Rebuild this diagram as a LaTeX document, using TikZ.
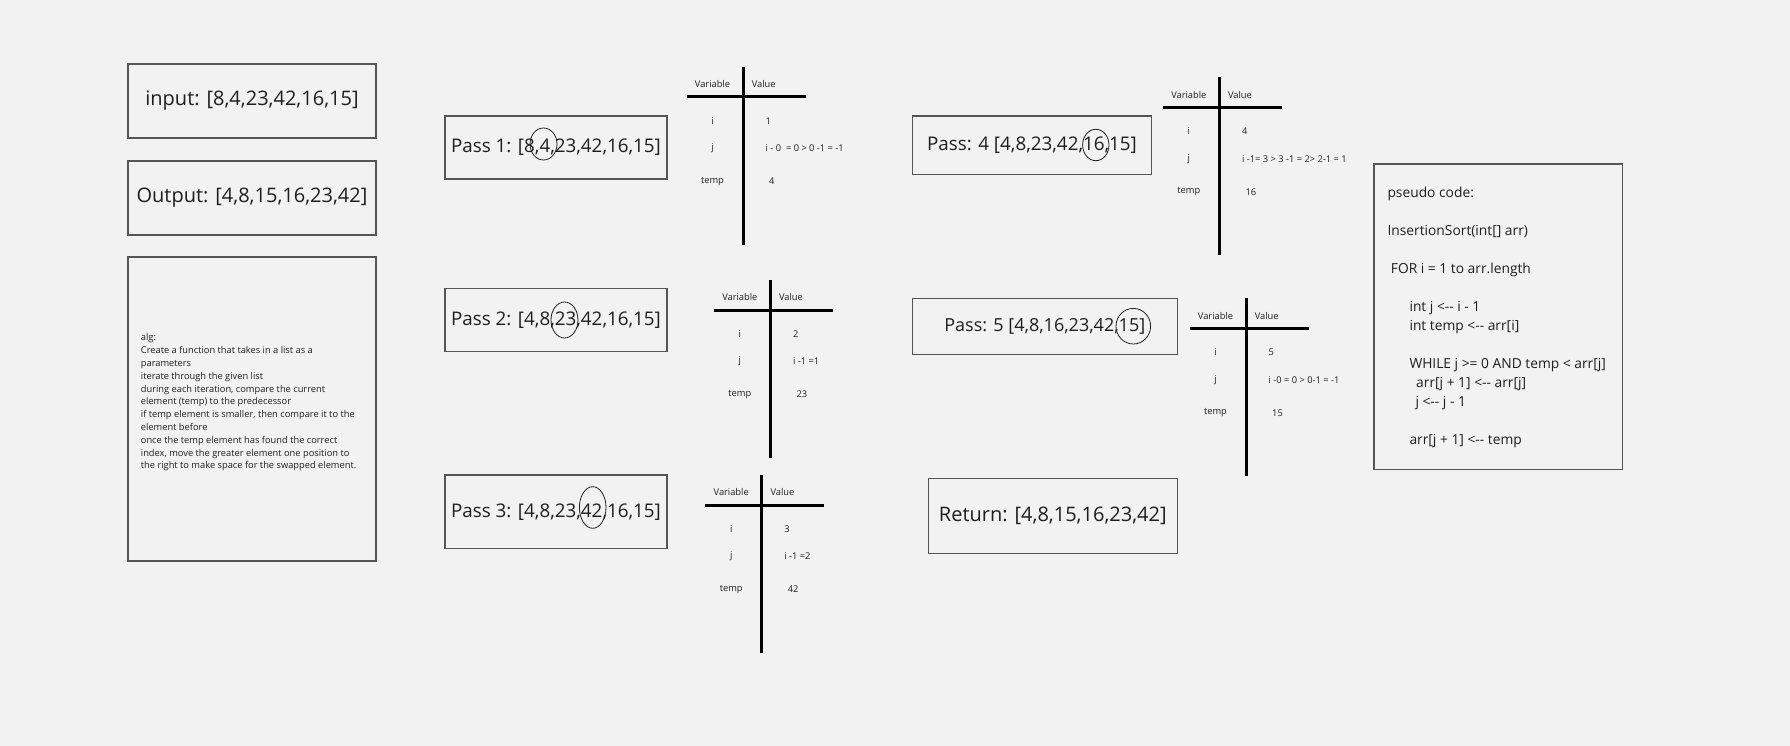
\documentclass[tikz,border=0pt]{standalone}
\usepackage{fontspec}
\setmainfont{Open Sans}[Ligatures=TeXOff]
\definecolor{bg}{HTML}{F2F2F2}
\definecolor{boxline}{HTML}{555555}
\definecolor{ink}{HTML}{1E1E1E}
\tikzset{
  box/.style={draw=boxline, line width=1.2pt, inner sep=0pt, text=ink},
  bigtxt/.style={font=\fontsize{20}{24}\selectfont},
  passtxt/.style={font=\fontsize{18.8}{22}\selectfont},
  smalltxt/.style={font=\fontsize{9.3}{11}\selectfont, text=ink, inner sep=0pt},
  tline/.style={line width=3pt, black},
  markring/.style={draw=ink, line width=0.8pt}
}
% name, X (vertical line), T (top), i value, j value, temp value
\newcommand\vartable[6]{%
  \coordinate (#1-top) at (#2,#3);
  \coordinate (#1-bot) at (#2,#3+178);
  \coordinate (#1-hl) at (#2-56.5,#3+30);
  \coordinate (#1-hr) at (#2+62.5,#3+30);
  \draw[tline] (#1-top) -- (#1-bot);
  \draw[tline] (#1-hl) -- (#1-hr);
  \node[smalltxt] (#1-var) at (#2-30.5,#3+17.5) {Variable};
  \node[smalltxt] (#1-val) at (#2+20.7,#3+17.5) {Value};
  \node[smalltxt] (#1-i) at (#2-30.5,#3+54) {i};
  \node[smalltxt] (#1-j) at (#2-30.5,#3+81.5) {j};
  \node[smalltxt] (#1-temp) at (#2-30.5,#3+114.5) {temp};
  \node[smalltxt, anchor=west] (#1-iv) at (#2+22.5,#3+54) {#4};
  \node[smalltxt, anchor=west] (#1-jv) at (#2+22.5,#3+81.5) {#5};
  \node[smalltxt, anchor=west] (#1-tv) at (#2+26,#3+114.5) {#6};
}
\begin{document}
\begin{tikzpicture}[x=1pt,y=-1pt]
  \fill[bg] (0,0) rectangle (1790,746);
  \useasboundingbox (0,0) rectangle (1790,746);

  % left column
  \node[box, bigtxt, minimum width=248, minimum height=74] (input) at (252,101) {input: [8,4,23,42,16,15]};
  \node[box, bigtxt, minimum width=248, minimum height=74] (output) at (252,198) {Output: [4,8,15,16,23,42]};
  \node[box, minimum width=248, minimum height=304] (algbox) at (252,409) {};
  \node[smalltxt, align=left, anchor=west, font=\fontsize{9.3}{12.8}\selectfont] (alg) at (140.7,402.5) {alg:\\
Create a function that takes in a list as a\\
parameters\\
iterate through the given list\\
during each iteration, compare the current\\
element (temp) to the predecessor\\
if temp element is smaller, then compare it to the\\
element before\\
once the temp element has found the correct\\
index, move the greater element one position to\\
the right to make space for the swapped element.};

  % passes
  \node[box, passtxt, minimum width=222, minimum height=63] (pass1) at (556,147.5) {Pass 1: [8,4,23,42,16,15]};
  \draw[markring] (543.5,144) ellipse [x radius=13.5pt, y radius=16pt];
  \node[box, passtxt, minimum width=222, minimum height=63.4] (pass2) at (556,320) {Pass 2: [4,8,23,42,16,15]};
  \draw[markring] (564.5,320) ellipse [x radius=13.5pt, y radius=18pt];
  \node[box, passtxt, minimum width=222, minimum height=73.3] (pass3) at (556,511.7) {Pass 3: [4,8,23,42,16,15]};
  \draw[markring] (592.7,507.5) ellipse [x radius=13.3pt, y radius=20.8pt];
  \node[box, passtxt, minimum width=239.4, minimum height=58.3] (pass4) at (1032,145.2) {Pass: 4 [4,8,23,42,16,15]};
  \draw[markring] (1095.8,145) ellipse [x radius=13.2pt, y radius=15.7pt];
  \node[box, font=\fontsize{18}{22}\selectfont, minimum width=265, minimum height=56] (pass5) at (1044.8,326.3) {Pass: 5 [4,8,16,23,42,15]};
  \draw[markring] (1133.3,326.2) ellipse [x radius=17.3pt, y radius=17.8pt];
  \node[box, bigtxt, minimum width=249, minimum height=75] (ret) at (1052.8,515.8) {Return: [4,8,15,16,23,42]};

  % variable tables
  \vartable{t1}{743}{67}{1}{i - 0\ \ = 0 > 0 -1 = -1}{4}
  \vartable{t2}{770.3}{280}{2}{i -1 =1}{23}
  \vartable{t3}{761.7}{475}{3}{i -1 =2}{42}
  \vartable{t4}{1219.3}{77.3}{4}{i -1= 3 > 3 -1 = 2> 2-1 = 1}{16}
  \vartable{t5}{1246}{298.3}{5}{i -0 = 0 > 0-1 = -1}{15}

  % pseudo code
  \node[box, minimum width=248.7, minimum height=305.3] (pseudobox) at (1498.3,316.7) {};
  \node[align=left, inner sep=0pt, text=ink, anchor=base west,
        font=\fontsize{13.8}{19}\selectfont] (pseudo) at (1387.3,444.5) {pseudo code:\\[19pt]
InsertionSort(int[] arr)\\[19pt]
\hspace*{3.4pt}FOR i = 1 to arr.length\\[19pt]
\hspace*{22pt}int j <-- i - 1\\
\hspace*{22pt}int temp <-- arr[i]\\[19pt]
\hspace*{22pt}WHILE j >= 0 AND temp < arr[j]\\
\hspace*{28.7pt}arr[j + 1] <-- arr[j]\\
\hspace*{28pt}j <-- j - 1\\[19pt]
\hspace*{22pt}arr[j + 1] <-- temp};
\end{tikzpicture}
\end{document}
